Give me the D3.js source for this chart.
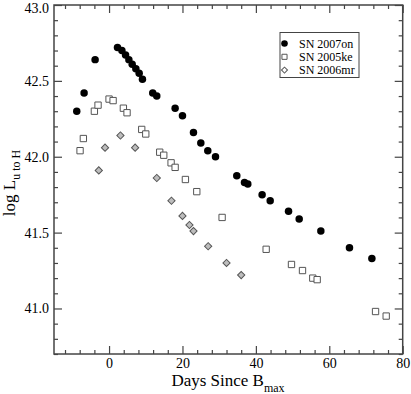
<!DOCTYPE html>
<html><head><meta charset="utf-8">
<script src="https://cdn.jsdelivr.net/npm/d3@7"></script>
<style>body{margin:0;background:#fff}svg{display:block}text{font-family:"Liberation Serif","Times New Roman",serif}</style>
</head><body><svg id="c" width="411" height="394"></svg>
<script>
// SN 2007on (filled circles)
const sn2007onDays = [-8.8,-6.8,-3.8,2.3,3.5,4.5,5.4,6.3,7.3,8.2,9.1,11.9,13.0,18.0,20.0,23.0,25.0,26.9,29.0,34.8,36.9,37.8,41.7,43.9,48.9,51.8,57.7,65.5,71.6];
const sn2007onLogL = [42.30,42.42,42.64,42.72,42.70,42.67,42.64,42.61,42.58,42.55,42.51,42.42,42.40,42.32,42.27,42.16,42.09,42.04,42.00,41.875,41.83,41.82,41.75,41.71,41.64,41.59,41.51,41.40,41.33];
// SN 2005ke (open squares)
const sn2005keDays = [-7.9,-7.0,-4.0,-3.0,0.0,1.1,3.9,4.9,8.9,10.0,13.8,14.9,16.9,18.0,20.8,23.9,30.8,42.8,49.7,52.7,55.5,56.7,72.6,75.5];
const sn2005keLogL = [42.04,42.12,42.30,42.34,42.38,42.37,42.32,42.29,42.18,42.15,42.03,42.01,41.96,41.93,41.85,41.77,41.60,41.39,41.29,41.25,41.20,41.19,40.98,40.95];
// SN 2006mr (grey diamonds)
const sn2006mrDays = [-2.8,-1.1,3.1,7.1,13.0,17.0,20.0,21.9,23.0,27.0,32.0,36.0];
const sn2006mrLogL = [41.91,42.06,42.14,42.06,41.86,41.71,41.61,41.55,41.51,41.41,41.30,41.22];
const seriesNames = ["SN 2007on","SN 2005ke","SN 2006mr"];
const xTickValues = [0,20,40,60,80];
const yTickValues = [41.0,41.5,42.0,42.5,43.0];

const svg = d3.select("#c");
const L=54, R=402.7, T=5, B=354;
const x = d3.scaleLinear().domain([-15,80]).range([L,R]);
const y = d3.scaleLinear().domain([40.7,43]).range([B,T]);
const axisColor = "#444";

const xMinor = d3.range(-12,80,4).filter(v=>v%20!==0);
const yMinor = d3.range(407,430,1).map(v=>v/10).filter(v=>Math.round(v*10)%5!==0);

function styleAxis(g){
  g.select(".domain").remove();
  g.selectAll("line").attr("stroke",axisColor).attr("stroke-width",1.2);
  g.selectAll("text").attr("fill","#000").attr("font-size","14px");
}
// bottom
svg.append("g").attr("transform",`translate(0,${B})`)
  .call(d3.axisBottom(x).tickValues(xTickValues).tickFormat(d3.format("d")).tickSizeInner(-8).tickPadding(4))
  .call(styleAxis);
svg.append("g").attr("transform",`translate(0,${B})`)
  .call(d3.axisBottom(x).tickValues(xMinor).tickFormat("").tickSizeInner(-4)).call(styleAxis);
// top
svg.append("g").attr("transform",`translate(0,${T})`)
  .call(d3.axisTop(x).tickValues(xTickValues).tickFormat("").tickSizeInner(-8)).call(styleAxis);
svg.append("g").attr("transform",`translate(0,${T})`)
  .call(d3.axisTop(x).tickValues(xMinor).tickFormat("").tickSizeInner(-4)).call(styleAxis);
// left
const leftAxis = svg.append("g").attr("transform",`translate(${L},0)`)
  .call(d3.axisLeft(y).tickValues(yTickValues).tickFormat(d3.format(".1f")).tickSizeInner(-8).tickPadding(5))
  .call(styleAxis);
leftAxis.selectAll(".tick text").filter(d=>d===43).attr("dy","0.5em");
svg.append("g").attr("transform",`translate(${L},0)`)
  .call(d3.axisLeft(y).tickValues(yMinor).tickFormat("").tickSizeInner(-4)).call(styleAxis);
// right
svg.append("g").attr("transform",`translate(${R},0)`)
  .call(d3.axisRight(y).tickValues(yTickValues).tickFormat("").tickSizeInner(-8)).call(styleAxis);
svg.append("g").attr("transform",`translate(${R},0)`)
  .call(d3.axisRight(y).tickValues(yMinor).tickFormat("").tickSizeInner(-4)).call(styleAxis);

svg.append("rect").attr("x",L).attr("y",T).attr("width",R-L).attr("height",B-T)
  .attr("fill","none").attr("stroke",axisColor).attr("stroke-width",1.5);

const circ = d3.symbol().type(d3.symbolCircle).size(44);
const sq = d3.symbol().type(d3.symbolSquare).size(40);
const dia = d3.symbol().type(d3.symbolSquare).size(26);

// diamonds
svg.append("g").selectAll("path").data(d3.zip(sn2006mrDays,sn2006mrLogL)).join("path")
  .attr("d",dia).attr("transform",d=>`translate(${x(d[0])},${y(d[1])}) rotate(45)`)
  .attr("fill","#bdbdbd").attr("stroke","#555").attr("stroke-width",1);
// squares
svg.append("g").selectAll("path").data(d3.zip(sn2005keDays,sn2005keLogL)).join("path")
  .attr("d",sq).attr("transform",d=>`translate(${x(d[0])},${y(d[1])})`)
  .attr("fill","#fff").attr("stroke","#555").attr("stroke-width",1);
// circles
svg.append("g").selectAll("path").data(d3.zip(sn2007onDays,sn2007onLogL)).join("path")
  .attr("d",circ).attr("transform",d=>`translate(${x(d[0])},${y(d[1])})`)
  .attr("fill","#000");

// legend
const lg = svg.append("g");
lg.append("rect").attr("x",280).attr("y",32.5).attr("width",79).attr("height",45)
  .attr("fill","#fff").attr("stroke",axisColor).attr("stroke-width",1);
const lsym = [
  {d:d3.symbol().type(d3.symbolCircle).size(34)(), fill:"#000", stroke:"none", rot:0},
  {d:d3.symbol().type(d3.symbolSquare).size(26)(), fill:"#fff", stroke:"#555", rot:0},
  {d:d3.symbol().type(d3.symbolSquare).size(18)(), fill:"#fff", stroke:"#555", rot:45}
];
seriesNames.forEach((n,i)=>{
  const yy = 43.5 + i*13.3;
  lg.append("path").attr("d",lsym[i].d).attr("transform",`translate(284.5,${yy}) rotate(${lsym[i].rot})`)
    .attr("fill",lsym[i].fill).attr("stroke",lsym[i].stroke).attr("stroke-width",1);
  lg.append("text").attr("x",299).attr("y",yy+4).attr("font-size","12px").text(n);
});

// axis titles
const xt = svg.append("text").attr("x",228).attr("y",386).attr("text-anchor","middle").attr("font-size","17px");
xt.append("tspan").text("Days Since B");
xt.append("tspan").attr("dy",6).attr("font-size","12px").text("max");

const yt = svg.append("text").attr("transform","translate(15,183) rotate(-90)").attr("text-anchor","middle").attr("font-size","17px");
yt.append("tspan").text("log L");
yt.append("tspan").attr("dy",5).attr("font-size","12px").text("u to H");
</script></body></html>
